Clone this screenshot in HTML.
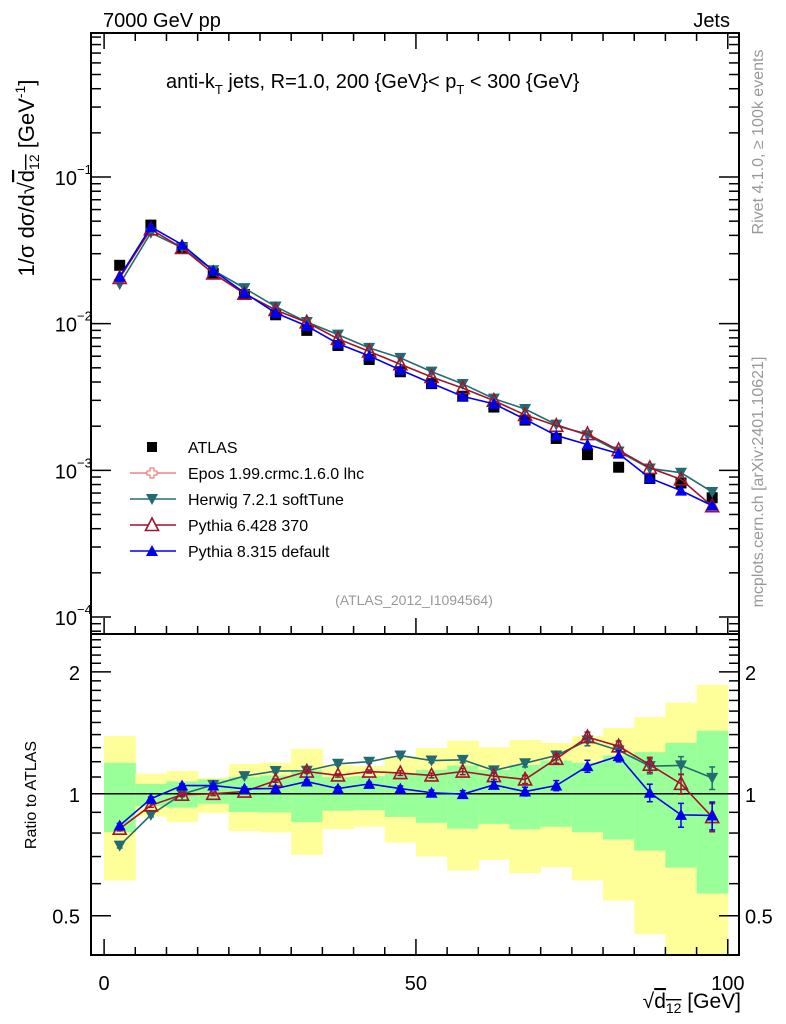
<!DOCTYPE html>
<html><head><meta charset="utf-8"><style>
html,body{margin:0;padding:0;background:#fff}
svg{display:block;font-family:"Liberation Sans",sans-serif}
</style></head><body>
<svg id="c" width="786" height="1024" viewBox="0 0 786 1024" xmlns="http://www.w3.org/2000/svg"></svg>
<script>
const binLow=[0,5,10,15,20,25,30,35,40,45,50,55,60,65,70,75,80,85,90,95];
const atlasVals=[0.025,0.047,0.033,0.022,0.0158,0.0115,0.0090,0.0071,0.0057,0.0047,0.0039,0.0032,0.0027,0.0022,0.00165,0.00128,0.00105,0.00088,0.00082,0.00065];
const herwigRatio=[0.745,0.887,0.998,1.052,1.106,1.138,1.14,1.186,1.20,1.243,1.208,1.213,1.142,1.19,1.243,1.354,1.28,1.17,1.175,1.095];
const py6Ratio=[0.82,0.936,0.995,1.0,1.013,1.078,1.135,1.11,1.135,1.125,1.11,1.135,1.106,1.085,1.22,1.38,1.31,1.18,1.058,0.876];
const py8Ratio=[0.835,0.972,1.048,1.048,1.029,1.03,1.072,1.03,1.058,1.03,1.006,0.998,1.052,1.013,1.048,1.17,1.239,1.006,0.887,0.884];
const mcErr=[0.01,0.01,0.01,0.01,0.01,0.01,0.01,0.01,0.01,0.015,0.015,0.02,0.02,0.025,0.03,0.04,0.04,0.05,0.06,0.07];
const yelHi=[1.388,1.12,1.138,1.095,1.184,1.193,1.291,1.179,1.17,1.239,1.297,1.352,1.304,1.359,1.336,1.388,1.453,1.547,1.678,1.858];
const yelLo=[0.611,0.879,0.851,0.897,0.809,0.803,0.707,0.818,0.829,0.758,0.70,0.647,0.687,0.637,0.659,0.611,0.545,0.45,0.35,0.35];
const grnHi=[1.193,1.058,1.073,1.085,1.099,1.11,1.142,1.099,1.106,1.12,1.146,1.175,1.146,1.179,1.208,1.193,1.243,1.267,1.336,1.431];
const grnLo=[0.804,0.932,0.924,0.945,0.901,0.899,0.851,0.908,0.911,0.877,0.848,0.82,0.843,0.817,0.829,0.804,0.771,0.724,0.657,0.567];
const xTicks=[0,50,100];
const mainTickLabels=["10","10","10","10"];
const mainTickExp=[-1,-2,-3,-4];
const ratioTicks=[0.5,1,2];

const svg=document.getElementById('c');
const NS="http://www.w3.org/2000/svg";
const L=91,R=739,T=33,M=634,B=955;
const X0=-2.1,X1=101.8;
function sx(v){return L+(v-X0)/(X1-X0)*(R-L);}
const MT=-0.018, MB=-4.116;
function sy(v){return T+(MT-Math.log10(v))/(MT-MB)*(M-T);}
const RT=Math.log10(2.48), RB=Math.log10(0.40);
function ry(v){v=Math.max(v,0.40);return M+(RT-Math.log10(v))/(RT-RB)*(B-M);}
function el(tag,attrs,parent){const e=document.createElementNS(NS,tag);for(const k in attrs)e.setAttribute(k,attrs[k]);(parent||svg).appendChild(e);return e;}
function txt(s,x,y,size,attrs,parent){const t=el('text',Object.assign({x:x,y:y,'font-size':size},attrs||{}),parent);t.textContent=s;return t;}

const bands=el('g',{});


binLow.forEach((b,i)=>{
  const r1=el('rect',{x:sx(b),y:ry(yelHi[i]),width:sx(b+5)-sx(b)+0.5,height:ry(yelLo[i])-ry(yelHi[i]),fill:'#ffff99'},bands);
  
  
  const r2=el('rect',{x:sx(b),y:ry(grnHi[i]),width:sx(b+5)-sx(b)+0.5,height:ry(grnLo[i])-ry(grnHi[i]),fill:'#99ff99'},bands);
  
  
});
el('line',{x1:L,x2:R,y1:ry(1),y2:ry(1),stroke:'#000','stroke-width':1.5});

el('rect',{x:L,y:T,width:R-L,height:M-T,fill:'none',stroke:'#000','stroke-width':2});
el('rect',{x:L,y:M,width:R-L,height:B-M,fill:'none',stroke:'#000','stroke-width':2});

for(let v=0;v<=100;v+=5){
  const major=(v%50===0);const len=major?16:8;
  el('line',{x1:sx(v),x2:sx(v),y1:M,y2:M-len,stroke:'#000','stroke-width':1.5});
  el('line',{x1:sx(v),x2:sx(v),y1:T,y2:T+len,stroke:'#000','stroke-width':1.5});
  el('line',{x1:sx(v),x2:sx(v),y1:B,y2:B-len,stroke:'#000','stroke-width':1.5});
}
xTicks.forEach(v=>{const t=txt(String(v),sx(v),990,20,{'text-anchor':'middle'});
  
  });

for(let e=-5;e<=0;e++){
  for(let m=1;m<10;m++){
    const v=m*Math.pow(10,e);const y=sy(v);
    if(y<T+1||y>M-1)continue;
    const len=m===1?20:10;
    el('line',{x1:L,x2:L+len,y1:y,y2:y,stroke:'#000','stroke-width':1.5});
    el('line',{x1:R,x2:R-len,y1:y,y2:y,stroke:'#000','stroke-width':1.5});
  }
}
mainTickExp.forEach((e,i)=>{
  const y=sy(Math.pow(10,e));
  const t=txt(mainTickLabels[i],77,y+8,20,{'text-anchor':'end'});
  
  
  txt('\u2212'+(-e),77,y-3,13,{});
});

[0.4,0.5,0.6,0.7,0.8,0.9,1,1.1,1.2,1.3,1.4,1.5,1.6,1.7,1.8,1.9,2,2.1,2.2,2.3,2.4].forEach(v=>{
  const y=ry(v);if(y<M+1||y>B-1)return;
  const major=ratioTicks.includes(v);const len=major?20:10;
  el('line',{x1:L,x2:L+len,y1:y,y2:y,stroke:'#000','stroke-width':1.5});
  el('line',{x1:R,x2:R-len,y1:y,y2:y,stroke:'#000','stroke-width':1.5});
});
ratioTicks.forEach(v=>{
  const y=ry(v);
  const a=txt(String(v),80,y+8,20,{'text-anchor':'end'});
  
  
  const b=txt(String(v),745,y+8,20,{});
  
  
});

function marker(type,x,y,color,parent){
  if(type==='sq')return el('rect',{x:x-5.5,y:y-5.5,width:11,height:11,fill:'#000'},parent);
  if(type==='down')return el('polygon',{points:`${x-6},${y-5} ${x+6},${y-5} ${x},${y+6}`,fill:color},parent);
  if(type==='up')return el('polygon',{points:`${x-6},${y+5} ${x+6},${y+5} ${x},${y-6}`,fill:color},parent);
  if(type==='open')return el('polygon',{points:`${x-6.5},${y+5.5} ${x+6.5},${y+5.5} ${x},${y-7}`,fill:'none',stroke:color,'stroke-width':1.6},parent);
}
const dg=el('g',{});


binLow.forEach((b,i)=>{
  const m=marker('sq',sx(b+2.5),sy(atlasVals[i]),'#000',dg);
  
  
});
const series=[
  {name:'herwig',ratio:herwigRatio,color:'#236b73',m:'down'},
  {name:'pythia6',ratio:py6Ratio,color:'#a0142c',m:'open'},
  {name:'pythia8',ratio:py8Ratio,color:'#0000ee',m:'up'}
];
series.forEach(s=>{
  const g=el('g',{});
  
  
  const mainPts=binLow.map((b,i)=>[sx(b+2.5),sy(atlasVals[i]*s.ratio[i])]);
  el('polyline',{points:mainPts.map(p=>p.join(',')).join(' '),fill:'none',stroke:s.color,'stroke-width':1.6},g);
  const ratPts=binLow.map((b,i)=>[sx(b+2.5),ry(s.ratio[i])]);
  el('polyline',{points:ratPts.map(p=>p.join(',')).join(' '),fill:'none',stroke:s.color,'stroke-width':1.6},g);
  binLow.forEach((b,i)=>{
    const x=sx(b+2.5);
    const y1=ry(s.ratio[i]+mcErr[i]),y2=ry(s.ratio[i]-mcErr[i]);
    el('line',{x1:x,x2:x,y1:y1,y2:y2,stroke:s.color,'stroke-width':1.5},g);
    el('line',{x1:x-3,x2:x+3,y1:y1,y2:y1,stroke:s.color,'stroke-width':1.5},g);
    el('line',{x1:x-3,x2:x+3,y1:y2,y2:y2,stroke:s.color,'stroke-width':1.5},g);
    const pm=marker(s.m,mainPts[i][0],mainPts[i][1],s.color,g);
    
    
    const rm=marker(s.m,ratPts[i][0],ratPts[i][1],s.color,g);
    
    
  });
});
</script>
<div style="position:absolute;left:0;top:0;width:786px;height:1024px;pointer-events:none">
<svg width="786" height="1024" style="position:absolute;left:0;top:0" font-family="Liberation Sans, sans-serif">
  <text x="103" y="27" font-size="20">7000 GeV pp</text>
  <text x="730" y="27" font-size="20" text-anchor="end">Jets</text>
  <text x="166" y="88" font-size="20">anti-k<tspan font-size="13" dy="6">T</tspan><tspan dy="-6"> jets, R=1.0, 200 {GeV}&lt; p</tspan><tspan font-size="13" dy="6">T</tspan><tspan dy="-6"> &lt; 300 {GeV}</tspan></text>
  <g transform="translate(34,178) rotate(-90)">
    <text x="0" y="0" font-size="22" text-anchor="middle">1/σ dσ/d√<tspan text-decoration="overline">d</tspan><tspan font-size="14" dy="5" text-decoration="overline">12</tspan><tspan dy="-5"> [GeV</tspan><tspan font-size="14" dy="-9">-1</tspan><tspan dy="9">]</tspan></text>
  </g>
  <text transform="translate(36,795) rotate(-90)" font-size="16" text-anchor="middle">Ratio to ATLAS</text>
  <g>
    <text x="741" y="1008" font-size="21" text-anchor="end">√<tspan text-decoration="overline">d</tspan><tspan font-size="14" dy="5" text-decoration="overline">12</tspan><tspan dy="-5"> [GeV]</tspan></text>
  </g>
  <text transform="translate(763,142) rotate(-90)" font-size="16" fill="#999" text-anchor="middle">Rivet 4.1.0, ≥ 100k events</text>
  <text transform="translate(763,482) rotate(-90)" font-size="16" fill="#999" text-anchor="middle">mcplots.cern.ch [arXiv:2401.10621]</text>
  <text x="414" y="605" font-size="14" fill="#999" text-anchor="middle">(ATLAS_2012_I1094564)</text>
  <g font-size="16">
    <rect x="147" y="442" width="10" height="10" fill="#000"/>
    <text x="188" y="453">ATLAS</text>
    <line x1="130" x2="176" y1="473" y2="473" stroke="#f08080" stroke-width="1.5"/>
    <path d="M150 468h4v3h3v4h-3v3h-4v-3h-3v-4h3z" fill="#fff" stroke="#f08080" stroke-width="1.2"/>
    <text x="188" y="479">Epos 1.99.crmc.1.6.0 lhc</text>
    <line x1="130" x2="176" y1="499" y2="499" stroke="#236b73" stroke-width="1.5"/>
    <polygon points="146,494 158,494 152,505" fill="#236b73"/>
    <text x="188" y="505">Herwig 7.2.1 softTune</text>
    <line x1="130" x2="176" y1="525" y2="525" stroke="#a0142c" stroke-width="1.5"/>
    <polygon points="145.5,530.5 158.5,530.5 152,518" fill="#fff" stroke="#a0142c" stroke-width="1.6"/>
    <text x="188" y="531">Pythia 6.428 370</text>
    <line x1="130" x2="176" y1="551" y2="551" stroke="#0000ee" stroke-width="1.5"/>
    <polygon points="146,556 158,556 152,545" fill="#0000ee"/>
    <text x="188" y="557">Pythia 8.315 default</text>
  </g>
</svg>
</div>
</body></html>
